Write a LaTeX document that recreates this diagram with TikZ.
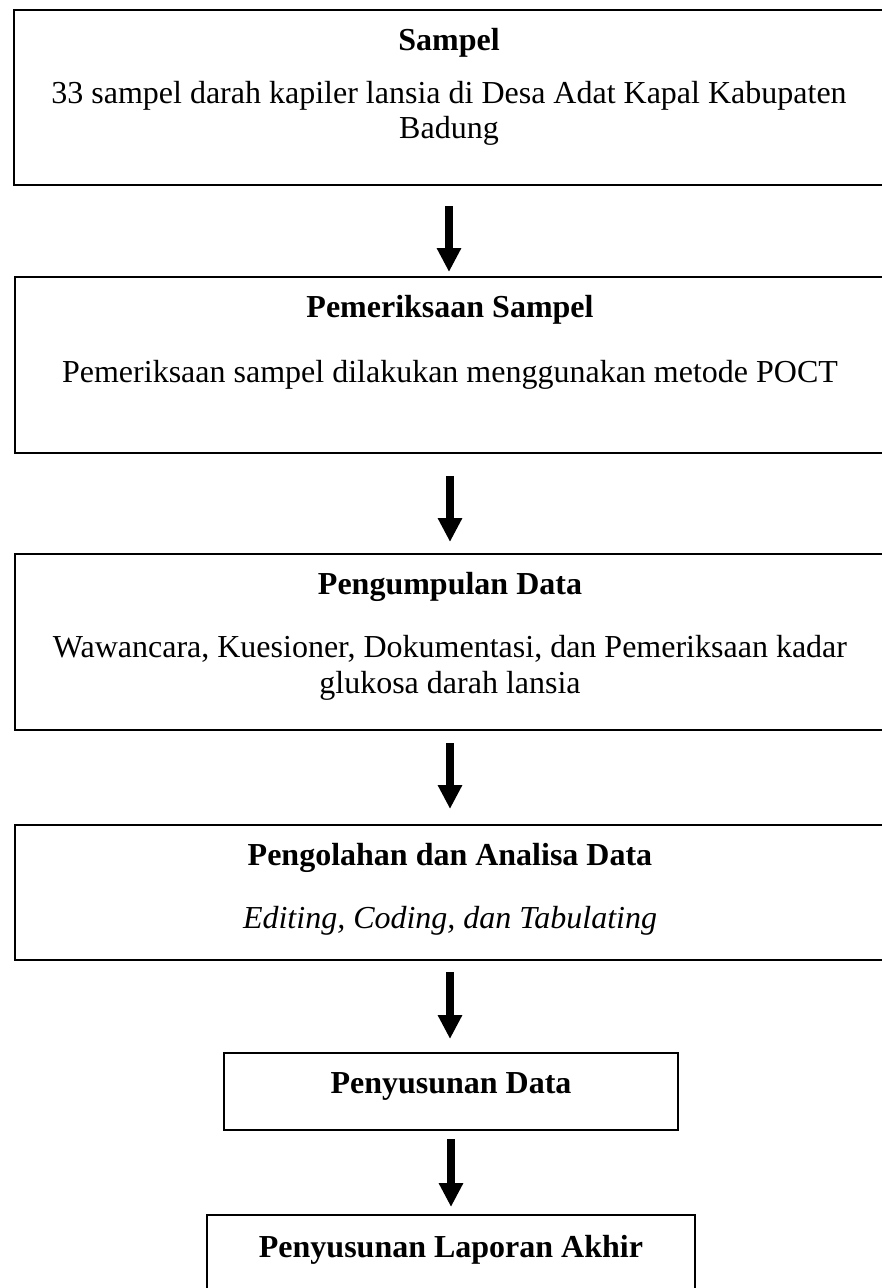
\documentclass[tikz,border=0pt]{standalone}
\usepackage{fontspec}
\setmainfont{Liberation Serif}
\usetikzlibrary{arrows.meta}

\tikzset{
  kotak/.style={draw, line width=2pt, rectangle, inner sep=0pt},
  teks/.style={anchor=base, inner sep=0pt, font=\fontsize{32}{35}\selectfont},
  judul/.style={teks, font=\fontsize{32}{35}\selectfont\bfseries},
  panah/.style={line width=7.5pt, -{Triangle[width=23pt,length=24pt]}},
}

\begin{document}
\begin{tikzpicture}[x=1pt,y=-1pt]
        \useasboundingbox (0,0) rectangle (881,1288);

        % kotak-kotak alur
        \node[kotak, minimum width=870pt, minimum height=175pt] (sampel) at (449,97.5) {};
        \node[kotak, minimum width=870pt, minimum height=176pt] (periksa) at (450,365) {};
        \node[kotak, minimum width=870pt, minimum height=176pt] (kumpul) at (450,642) {};
        \node[kotak, minimum width=870pt, minimum height=135pt] (olah) at (450,892.5) {};
        \node[kotak, minimum width=454pt, minimum height=77pt] (susun) at (451,1091.5) {};
        \node[kotak, minimum width=488pt, minimum height=85pt] (laporan) at (451,1257.5) {};

        % isi teks
        \node[judul] (jSampel) at (449,50) {Sampel};
        \node[teks] (tSampel1) at (449,103) {33 sampel darah kapiler lansia di Desa Adat Kapal Kabupaten};
        \node[teks] (tSampel2) at (449,138) {Badung};

        \node[judul] (jPeriksa) at (450,317) {Pemeriksaan Sampel};
        \node[teks] (tPeriksa) at (450,382) {Pemeriksaan sampel dilakukan menggunakan metode POCT};

        \node[judul] (jKumpul) at (450,594) {Pengumpulan Data};
        \node[teks] (tKumpul1) at (450,657) {Wawancara, Kuesioner, Dokumentasi, dan Pemeriksaan kadar};
        \node[teks] (tKumpul2) at (450,693) {glukosa darah lansia};

        \node[judul] (jOlah) at (450,865) {Pengolahan dan Analisa Data};
        \node[teks] (tOlah) at (450,928) {\itshape Editing, Coding, dan Tabulating};

        \node[judul] (jSusun) at (451,1093) {Penyusunan Data};
        \node[judul] (jLaporan) at (451,1257) {Penyusunan Laporan Akhir};

        % panah antar kotak
        \draw[panah, shorten <=20pt, shorten >=4pt] (sampel.south) -- (sampel.south |- periksa.north);
        \draw[panah, shorten <=22pt, shorten >=11pt] (periksa.south) -- (periksa.south |- kumpul.north);
        \draw[panah, shorten <=12pt, shorten >=15pt] (kumpul.south) -- (kumpul.south |- olah.north);
        \draw[panah, shorten <=11pt, shorten >=13pt] (olah.south) -- (olah.south |- susun.north);
        \draw[panah, shorten <=8pt, shorten >=7pt] (susun.south) -- (susun.south |- laporan.north);
    \end{tikzpicture}
\end{document}
